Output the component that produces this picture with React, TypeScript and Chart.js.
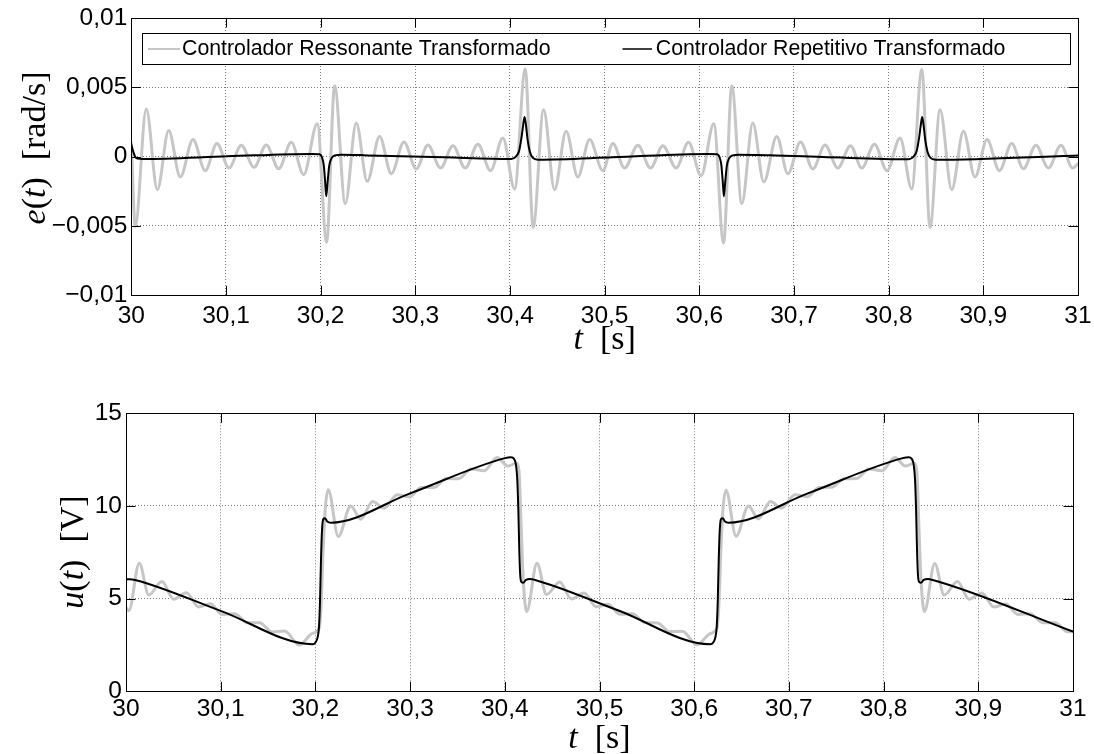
import React, { useEffect, useRef } from "react";
import { Chart, registerables } from "chart.js";

Chart.register(...registerables);

// ---------------- data ----------------
const xTickValues = [30, 30.1, 30.2, 30.3, 30.4, 30.5, 30.6, 30.7, 30.8, 30.9, 31];
const xTickLabels = ["30", "30,1", "30,2", "30,3", "30,4", "30,5", "30,6", "30,7", "30,8", "30,9", "31"];
const eTickValues = [-0.01, -0.005, 0, 0.005, 0.01];
const eTickLabels = ["\u22120,01", "\u22120,005", "0", "0,005", "0,01"];
const uTickValues = [0, 5, 10, 15];
const uTickLabels = ["0", "5", "10", "15"];

const seriesLabels = ["Controlador Ressonante Transformado", "Controlador Repetitivo Transformado"];

// e(t) - resonant controller (gray)
const tResE = [30.0000, 30.0042, 30.0158, 30.0275, 30.0395, 30.0517, 30.0652, 30.0781, 30.0905, 30.1032,
  30.1162, 30.1296, 30.1426, 30.1557, 30.1690, 30.1821, 30.1964, 30.2063, 30.2148, 30.2260,
  30.2376, 30.2492, 30.2623, 30.2746, 30.2880, 30.3010, 30.3133, 30.3267, 30.3397, 30.3527,
  30.3661, 30.3795, 30.3925, 30.4049, 30.4161, 30.4245, 30.4355, 30.4471, 30.4593, 30.4717,
  30.4841, 30.4981, 30.5087, 30.5210, 30.5351, 30.5485, 30.5615, 30.5755, 30.5886, 30.6019,
  30.6153, 30.6256, 30.6343, 30.6449, 30.6565, 30.6681, 30.6818, 30.6935, 30.7069, 30.7199,
  30.7328, 30.7463, 30.7597, 30.7716, 30.7850, 30.7983, 30.8120, 30.8244, 30.8350, 30.8437,
  30.8543, 30.8666, 30.8790, 30.8912, 30.9039, 30.9170, 30.9300, 30.9423, 30.9556, 30.9687,
  30.9820, 30.9944, 31.0000];
const eRes = [0.0010, -0.00503, 0.00344, -0.00238, 0.00188, -0.00147, 0.00123, -0.00101, 0.00094, -0.00082,
  0.00082, -0.00077, 0.00084, -0.00087, 0.00103, -0.0013, 0.00238, -0.00618, 0.00512, -0.00339,
  0.00243, -0.00178, 0.00146, -0.00123, 0.00106, -0.00089, 0.00084, -0.00082, 0.00079, -0.00082,
  0.00089, -0.00101, 0.00135, -0.00233, 0.00633, -0.0051, 0.00339, -0.00238, 0.00183, -0.00147,
  0.00123, -0.00101, 0.00094, -0.00082, 0.00082, -0.00082, 0.00079, -0.00082, 0.00103, -0.00137,
  0.00238, -0.00623, 0.00512, -0.00339, 0.00243, -0.00183, 0.00146, -0.00123, 0.00106, -0.00089,
  0.00084, -0.00082, 0.00079, -0.00082, 0.00089, -0.00101, 0.00135, -0.00233, 0.00628, -0.0051,
  0.00339, -0.00238, 0.00183, -0.00147, 0.00123, -0.00101, 0.00094, -0.00087, 0.00082, -0.00082,
  0.00082, -0.00082, -0.0005];

// e(t) - repetitive controller (black)
const tRepE = [30.0000, 30.0021, 30.0042, 30.0071, 30.0113, 30.1014, 30.1901, 30.1989, 30.2014, 30.2032,
  30.2046, 30.2059, 30.2074, 30.2091, 30.2116, 30.2151, 30.2218, 30.2500, 30.3300, 30.4013,
  30.4062, 30.4097, 30.4123, 30.4140, 30.4154, 30.4168, 30.4186, 30.4210, 30.4242, 30.4295,
  30.5087, 30.6090, 30.6189, 30.6214, 30.6232, 30.6246, 30.6259, 30.6274, 30.6291, 30.6316,
  30.6351, 30.6418, 30.7300, 30.8213, 30.8262, 30.8297, 30.8323, 30.8340, 30.8354, 30.8368,
  30.8386, 30.8410, 30.8442, 30.8495, 31.0000];
const eRep = [0.00087, 0.00036, -0.00002, -0.00014, -0.00017, 0.00002, 0.00020, 0.00018, -0.00004, -0.00058,
  -0.00166, -0.00286, -0.00180, -0.00065, -0.00011, 0.00009, 0.00014, 0.00009, -0.00005, -0.00017,
  0.00000, 0.00043, 0.00144, 0.00231, 0.00286, 0.00231, 0.00123, 0.00036, -0.00009, -0.00022,
  -0.00005, 0.00020, 0.00018, -0.00004, -0.00058, -0.00166, -0.00286, -0.00180, -0.00065, -0.00011,
  0.00009, 0.00014, -0.00003, -0.00019, 0.00000, 0.00043, 0.00144, 0.00231, 0.00286, 0.00231,
  0.00123, 0.00036, -0.00009, -0.00022, 0.00009];

// u(t) - resonant controller (gray)
const tResU = [30.0000, 30.0030, 30.0140, 30.0240, 30.0380, 30.0502, 30.0637, 30.0766, 30.0890, 30.1017,
  30.1147, 30.1281, 30.1411, 30.1542, 30.1675, 30.1830, 30.1971, 30.2040, 30.2060, 30.2080,
  30.2105, 30.2136, 30.2242, 30.2373, 30.2478, 30.2605, 30.2724, 30.2865, 30.2995, 30.3118,
  30.3252, 30.3382, 30.3512, 30.3646, 30.3780, 30.3920, 30.4030, 30.4120, 30.4150, 30.4172,
  30.4195, 30.4231, 30.4340, 30.4440, 30.4580, 30.4702, 30.4837, 30.4966, 30.5090, 30.5217,
  30.5347, 30.5481, 30.5611, 30.5742, 30.5875, 30.6030, 30.6171, 30.6240, 30.6260, 30.6280,
  30.6305, 30.6336, 30.6442, 30.6573, 30.6678, 30.6805, 30.6924, 30.7065, 30.7195, 30.7318,
  30.7452, 30.7582, 30.7712, 30.7846, 30.7980, 30.8120, 30.8230, 30.8320, 30.8350, 30.8372,
  30.8395, 30.8431, 30.8540, 30.8640, 30.8780, 30.8902, 30.9037, 30.9166, 30.9290, 30.9417,
  30.9547, 30.9681, 30.9811, 30.9942, 31.0000];
const uRes = [4.50, 4.35, 6.91, 5.20, 5.92, 4.97, 5.32, 4.55, 4.72, 4.15,
  4.19, 3.70, 3.70, 3.20, 3.25, 2.50, 3.13, 3.40, 4.60, 7.40,
  9.90, 10.87, 8.35, 10.00, 9.29, 10.24, 9.88, 10.61, 10.49, 11.00,
  11.00, 11.48, 11.47, 12.00, 11.90, 12.62, 12.15, 12.30, 11.90, 9.00,
  6.00, 4.30, 6.91, 5.22, 5.90, 4.98, 5.30, 4.56, 4.70, 4.16,
  4.18, 3.71, 3.69, 3.22, 3.24, 2.51, 3.12, 3.40, 4.60, 7.40,
  9.90, 10.85, 8.37, 10.00, 9.30, 10.24, 9.89, 10.60, 10.50, 11.00,
  11.01, 11.47, 11.48, 12.00, 11.90, 12.62, 12.15, 12.30, 11.90, 9.00,
  6.00, 4.30, 6.90, 5.20, 5.92, 4.97, 5.31, 4.55, 4.71, 4.15,
  4.18, 3.70, 3.70, 3.21, 3.22];

// u(t) - repetitive controller (black)
const tRepU = [30.0000, 30.0040, 30.0095, 30.1000, 30.1971, 30.1999, 30.2024, 30.2038, 30.2049, 30.2059,
  30.2070, 30.2083, 30.2101, 30.2126, 30.2161, 30.3000, 30.4002, 30.4065, 30.4097, 30.4118,
  30.4132, 30.4143, 30.4153, 30.4164, 30.4178, 30.4195, 30.4224, 30.4266, 30.4319, 30.5200,
  30.6171, 30.6199, 30.6224, 30.6238, 30.6249, 30.6259, 30.6270, 30.6283, 30.6301, 30.6326,
  30.6361, 30.7200, 30.8202, 30.8265, 30.8297, 30.8318, 30.8332, 30.8343, 30.8353, 30.8364,
  30.8378, 30.8395, 30.8424, 30.8466, 30.8519, 31.0000];
const uRep = [6.05, 6.05, 6.01, 4.34, 2.54, 2.62, 2.92, 3.49, 4.93, 7.09,
  8.71, 9.29, 9.34, 9.16, 9.10, 10.68, 12.58, 12.63, 12.54, 12.22,
  11.41, 9.79, 7.63, 6.19, 5.89, 5.86, 6.01, 6.06, 6.01, 4.36,
  2.54, 2.62, 2.92, 3.49, 4.93, 7.09, 8.71, 9.29, 9.34, 9.16,
  9.10, 10.68, 12.58, 12.63, 12.54, 12.22, 11.41, 9.79, 7.63, 6.19,
  5.89, 5.86, 6.01, 6.06, 6.01, 3.22];

// axis titles (text, italic)
const eTitle: [string, boolean][] = [["e", true], ["(", false], ["t", true], [")", false], ["  [rad/s]", false]];
const uTitle: [string, boolean][] = [["u", true], ["(", false], ["t", true], [")", false], ["  [V]", false]];
const tTitle: [string, boolean][] = [["t", true], ["  [s]", false]];

// ---------------- style ----------------
const GRAY = "#c6c6c6";
const GRID = "#7a7a7a";
const SANS = '"Liberation Sans", Arial, Helvetica, sans-serif';
const SERIF = '"Liberation Serif", "Times New Roman", serif';
const TICK_FONT = { family: SANS, size: 24.5 };
const TL = 9.5;

type Geo = {
  W: number; H: number; left: number; right: number; top: number; bottom: number;
  xPad: number; yTitleX: number; yTitleY: number; xTitleY: number;
};

const topGeo: Geo = { W: 1094, H: 370, left: 131.3, right: 1078, top: 18, bottom: 295.3, xPad: 6, yTitleX: 36, yTitleY: 148, xTitleY: 340 };
const botGeo: Geo = { W: 1094, H: 384, left: 126, right: 1073, top: 43.3, bottom: 321.3, xPad: 3, yTitleX: 74, yTitleY: 182, xTitleY: 369 };

const pts = (ts: number[], vs: number[]) => ts.map((t, i) => ({ x: t, y: vs[i] }));

function drawPieces(ctx: CanvasRenderingContext2D, pieces: [string, boolean][], cx: number, cy: number, rot: boolean, size: number) {
  ctx.save();
  ctx.translate(cx, cy);
  if (rot) ctx.rotate(-Math.PI / 2);
  const fonts = pieces.map(([, it]) => `${it ? "italic " : ""}${size}px ${SERIF}`);
  const widths = pieces.map(([t], k) => { ctx.font = fonts[k]; return ctx.measureText(t).width; });
  const total = widths.reduce((a, b) => a + b, 0);
  let x = -total / 2;
  ctx.textBaseline = "middle";
  ctx.textAlign = "left";
  ctx.fillStyle = "#000";
  pieces.forEach(([t], k) => { ctx.font = fonts[k]; ctx.fillText(t, x, 0); x += widths[k]; });
  ctx.restore();
}

function framePlugin(geo: Geo, yTitle: [string, boolean][], legend: boolean) {
  return {
    id: "frame",
    afterDraw(chart: any) {
      const { ctx, chartArea: a, scales } = chart;
      ctx.save();
      ctx.strokeStyle = "#000";
      ctx.lineWidth = 1;
      ctx.setLineDash([]);
      ctx.beginPath();
      scales.x.ticks.forEach((t: any) => {
        const px = Math.round(scales.x.getPixelForValue(t.value)) + 0.5;
        ctx.moveTo(px, a.bottom); ctx.lineTo(px, a.bottom - TL);
        ctx.moveTo(px, a.top); ctx.lineTo(px, a.top + TL);
      });
      scales.y.ticks.forEach((t: any) => {
        const py = Math.round(scales.y.getPixelForValue(t.value)) + 0.5;
        ctx.moveTo(a.left, py); ctx.lineTo(a.left + TL, py);
        ctx.moveTo(a.right, py); ctx.lineTo(a.right - TL, py);
      });
      ctx.stroke();
      ctx.strokeRect(Math.round(a.left) + 0.5, Math.round(a.top) + 0.5, Math.round(a.right - a.left), Math.round(a.bottom - a.top));

      if (legend) {
        const ds = chart.data.datasets;
        const x1 = 142.5, y1 = 33.5, x2 = 1070.5, y2 = 64.5;
        ctx.fillStyle = "#fff";
        ctx.fillRect(x1, y1, x2 - x1, y2 - y1);
        ctx.strokeStyle = "#000";
        ctx.lineWidth = 1;
        ctx.strokeRect(x1, y1, x2 - x1, y2 - y1);
        const items = [{ l1: 148, l2: 180, tx: 182 }, { l1: 622.5, l2: 652, tx: 655.8 }];
        const ly = 49;
        items.forEach((it, k) => {
          ctx.strokeStyle = ds[k].borderColor;
          ctx.lineWidth = k === 0 ? 2 : 1.5;
          ctx.beginPath(); ctx.moveTo(it.l1, ly); ctx.lineTo(it.l2, ly); ctx.stroke();
          ctx.fillStyle = "#000";
          ctx.font = `21.3px ${SANS}`;
          ctx.textBaseline = "middle";
          ctx.textAlign = "left";
          ctx.fillText(ds[k].label, it.tx, ly + 0.5);
        });
      }
      ctx.restore();

      drawPieces(ctx, yTitle, geo.yTitleX, geo.yTitleY, true, 34);
      drawPieces(ctx, tTitle, (a.left + a.right) / 2, geo.xTitleY, false, 34);
    },
  };
}

function makeChart(canvas: HTMLCanvasElement, geo: Geo, datasets: any[], yMin: number, yMax: number,
  yTicks: number[], yLabels: string[], yTitle: [string, boolean][], legend: boolean) {
  return new Chart(canvas, {
    type: "line",
    data: { datasets },
    options: {
      animation: false,
      responsive: false,
      maintainAspectRatio: false,
      events: [],
      layout: { padding: { left: 0, top: geo.top, right: geo.W - geo.right, bottom: 0 } },
      plugins: { legend: { display: false }, tooltip: { enabled: false }, title: { display: false } },
      elements: { point: { radius: 0 } },
      scales: {
        x: {
          type: "linear", min: 30, max: 31, offset: false,
          afterBuildTicks: (s: any) => { s.ticks = xTickValues.map((v) => ({ value: v })); },
          afterFit: (s: any) => { s.height = geo.H - geo.bottom; s.paddingLeft = 0; s.paddingRight = 0; s.paddingTop = 0; s.paddingBottom = 0; },
          ticks: { autoSkip: false, maxRotation: 0, minRotation: 0, padding: geo.xPad, color: "#000", font: TICK_FONT,
            callback: (_v: any, i: number) => xTickLabels[i] },
          grid: { color: GRID, lineWidth: 1, drawTicks: false },
          border: { display: false, dash: [1, 2] },
        },
        y: {
          type: "linear", min: yMin, max: yMax,
          afterBuildTicks: (s: any) => { s.ticks = yTicks.map((v) => ({ value: v })); },
          afterFit: (s: any) => { s.width = geo.left; s.paddingLeft = 0; s.paddingRight = 0; s.paddingTop = 0; s.paddingBottom = 0; },
          ticks: { autoSkip: false, padding: 4, color: "#000", font: TICK_FONT,
            callback: (_v: any, i: number) => yLabels[i] },
          grid: { color: GRID, lineWidth: 1, drawTicks: false },
          border: { display: false, dash: [1, 2] },
        },
      },
    } as any,
    plugins: [framePlugin(geo, yTitle, legend)],
  });
}

function series(resT: number[], resV: number[], repT: number[], repV: number[]) {
  return [
    { label: seriesLabels[0], data: pts(resT, resV), borderColor: GRAY, borderWidth: 3, pointRadius: 0,
      cubicInterpolationMode: "monotone", borderCapStyle: "round", borderJoinStyle: "round", order: 2, fill: false },
    { label: seriesLabels[1], data: pts(repT, repV), borderColor: "#000", borderWidth: 2, pointRadius: 0,
      cubicInterpolationMode: "monotone", borderCapStyle: "round", borderJoinStyle: "round", order: 1, fill: false },
  ];
}

export default function App() {
  const topRef = useRef<HTMLCanvasElement>(null);
  const botRef = useRef<HTMLCanvasElement>(null);

  useEffect(() => {
    const c1 = makeChart(topRef.current!, topGeo, series(tResE, eRes, tRepE, eRep), -0.01, 0.01, eTickValues, eTickLabels, eTitle, true);
    const c2 = makeChart(botRef.current!, botGeo, series(tResU, uRes, tRepU, uRep), 0, 15, uTickValues, uTickLabels, uTitle, false);
    return () => { c1.destroy(); c2.destroy(); };
  }, []);

  return (
    <div style={{ position: "absolute", left: 0, top: 0, width: 1094, height: 754, background: "#fff" }}>
      <canvas ref={topRef} width={topGeo.W} height={topGeo.H}
        style={{ position: "absolute", left: 0, top: 0, width: topGeo.W, height: topGeo.H, display: "block" }} />
      <canvas ref={botRef} width={botGeo.W} height={botGeo.H}
        style={{ position: "absolute", left: 0, top: topGeo.H, width: botGeo.W, height: botGeo.H, display: "block" }} />
    </div>
  );
}
